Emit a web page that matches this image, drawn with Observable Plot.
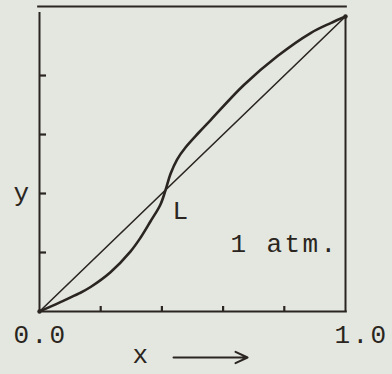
<!DOCTYPE html>
<html>
<head>
<meta charset="utf-8">
<script src="https://cdn.jsdelivr.net/npm/d3@7"></script>
<script src="https://cdn.jsdelivr.net/npm/@observablehq/plot@0.6"></script>
<style>
  html, body { margin: 0; padding: 0; background: #e4e7df; }
  #chart svg { display: block; background: #e4e7df; }
  #chart svg text { letter-spacing: 2.4px; }
</style>
</head>
<body>
<div id="chart"></div>
<script>
// Vapour-liquid equilibrium at 1 atm: mole fraction in liquid (x) vs vapour (y),
// showing the S-shaped curve crossing the diagonal at the azeotrope L.
const liquidX = [0, 0.065, 0.131, 0.167, 0.232, 0.297, 0.33, 0.363, 0.395, 0.412, 0.428, 0.45, 0.477, 0.52, 0.56, 0.667, 0.778, 0.886, 0.95, 1];
const vapourY = [0, 0.030, 0.062, 0.083, 0.133, 0.203, 0.250, 0.306, 0.362, 0.412, 0.466, 0.516, 0.556, 0.606, 0.650, 0.767, 0.866, 0.944, 0.977, 1];
const diagonal = [0, 1];
const azeotrope = [0.412];
const innerTicks = [0.2, 0.4, 0.6, 0.8];
const endLabels = [0, 1];
const pressureLabel = "1 atm.";
const pointLabel = "L";

const ink = "#2a2520";
const font = "Liberation Mono, DejaVu Sans Mono, monospace";
const equilibrium = liquidX.map((x, i) => ({x, y: vapourY[i]}));
const fmt = d3.format(".1f");

const chart = Plot.plot({
  width: 392,
  height: 374,
  marginLeft: 39,
  marginRight: 47,
  marginTop: 6,
  marginBottom: 63,
  style: {fontFamily: font, fontSize: "26px", color: ink, background: "transparent"},
  x: {domain: [0, 1]},
  y: {domain: [0, 1.034]},
  marks: [
    // box: top edge sits a little above the y = 1 level
    Plot.ruleY([1.034], {x1: -0.006, x2: 1.006, stroke: ink, strokeWidth: 2}),
    Plot.ruleX([0], {y1: 0, y2: 1.014, stroke: ink, strokeWidth: 2}),
    Plot.ruleX([1], {y1: 0, y2: 1, stroke: ink, strokeWidth: 2}),
    Plot.ruleY([0], {x1: 0, x2: 1.006, stroke: ink, strokeWidth: 2.2}),
    // inward ticks
    Plot.axisX({ticks: innerTicks, tickSize: -5, tickFormat: () => "", label: null, stroke: ink, strokeWidth: 2.2}),
    Plot.axisY({ticks: innerTicks, tickSize: -7, tickFormat: () => "", label: null, stroke: ink, strokeWidth: 2.2}),
    // x = y line
    Plot.line(diagonal, {x: d => d, y: d => d, stroke: ink, strokeWidth: 1.6}),
    // equilibrium curve
    Plot.line(equilibrium, {x: "x", y: "y", curve: "catmull-rom", stroke: ink, strokeWidth: 2.6}),
    Plot.dot([0, 1], {x: d => d, y: d => d, r: 2.2, fill: ink}),
    // azeotrope label
    Plot.text(azeotrope, {x: d => d, y: d => d, text: () => pointLabel, textAnchor: "start", lineAnchor: "bottom", dx: 7, dy: 29, fill: ink}),
    // pressure note
    Plot.text([pressureLabel], {frameAnchor: "bottom-left", text: d => d, textAnchor: "start", lineAnchor: "bottom", dx: 191, dy: -60, fill: ink}),
    // end tick labels
    Plot.text(endLabels.filter(d => d === 0), {x: d => d, frameAnchor: "bottom", text: fmt, textAnchor: "middle", lineAnchor: "bottom", dx: 1, dy: 31, fill: ink}),
    Plot.text(endLabels.filter(d => d === 1), {x: d => d, frameAnchor: "bottom", text: fmt, textAnchor: "middle", lineAnchor: "bottom", dx: 16, dy: 31, fill: ink}),
    // axis names
    Plot.text(["y"], {frameAnchor: "bottom-left", text: d => d, textAnchor: "middle", lineAnchor: "bottom", dx: -17, dy: -111, fill: ink}),
    Plot.text(["x"], {frameAnchor: "bottom-left", text: d => d, textAnchor: "middle", lineAnchor: "bottom", dx: 102, dy: 51, fill: ink}),
    Plot.arrow([{x1: 0.438, x2: 0.68, y: -0.156}], {x1: "x1", x2: "x2", y1: "y", y2: "y", stroke: ink, strokeWidth: 2, headLength: 10, headAngle: 50})
  ]
});

document.getElementById("chart").append(chart);
</script>
</body>
</html>
